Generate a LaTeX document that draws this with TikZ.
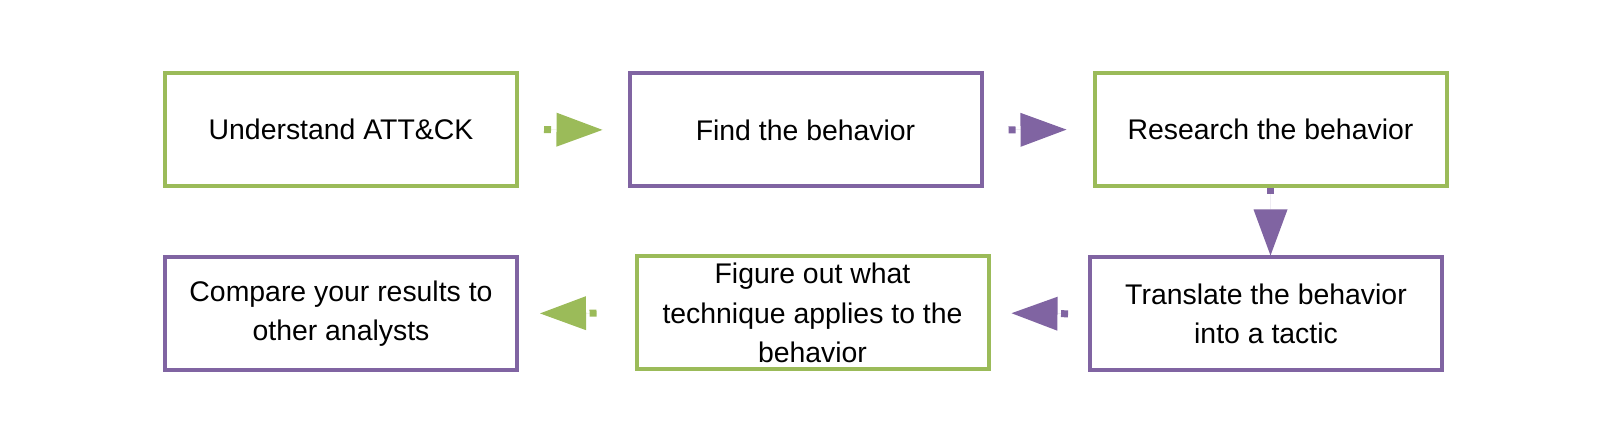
\documentclass[tikz,border=0pt]{standalone}
\usepackage{fontspec}
\setmainfont{Liberation Sans}
\usetikzlibrary{arrows.meta}
\definecolor{ogreen}{HTML}{9BBB59}
\definecolor{opurple}{HTML}{8064A2}
\begin{document}
\begin{tikzpicture}[x=0.5pt,y=-0.5pt,
  box/.style={draw=#1, line width=2pt, minimum width=176pt, minimum height=56.5pt,
    inner sep=0pt, align=center, font=\fontsize{14.2pt}{19.75pt}\selectfont, text=black},
  conn/.style={draw=#1, fill=#1, line width=3.5pt, dash pattern=on 3.5pt off 60pt,
    -{Triangle[length=23pt,width=17pt,line width=0pt]}}
]
\useasboundingbox (0,0) rectangle (1600,437);
\node[box=ogreen]  (b1) at (341,129.5)  {Understand ATT\&CK};
\node[box=opurple] (b2) at (805.5,130)  {Find the behavior};
\node[box=ogreen]  (b3) at (1270.5,129.5) {Research the behavior};
\node[box=opurple] (b4) at (1266,314)   {Translate the behavior\\into a tactic};
\node[box=ogreen]  (b5) at (812.5,313)  {Figure out what\\technique applies to the\\behavior};
\node[box=opurple] (b6) at (341,313.5)  {Compare your results to\\other analysts};

\draw[conn=ogreen, shorten <=12.5pt, shorten >=12.5pt] (b1.east) -- (b2.west);
\draw[conn=opurple, shorten <=12.5pt, shorten >=13pt] (b2.east) -- (b3.west);
\draw[conn=opurple, dash pattern=on 3pt off 60pt] (b3.south) -- (b3.south |- b4.north);
\draw[conn=opurple, shorten <=10pt, shorten >=10.5pt] (b4.west) -- (b5.east);
\draw[conn=ogreen, shorten <=19pt, shorten >=10.5pt] (b5.west) -- (b6.east);
\end{tikzpicture}
\end{document}
